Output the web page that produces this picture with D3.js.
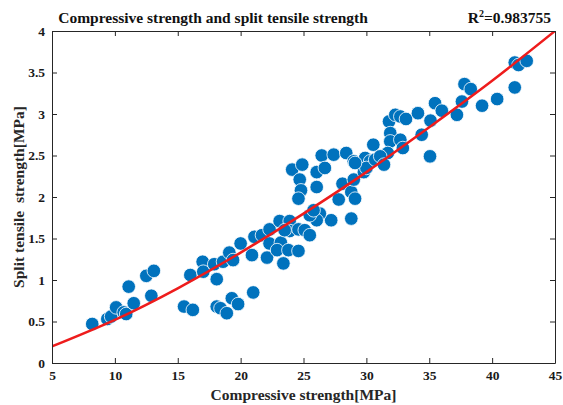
<!DOCTYPE html>
<html>
<head>
<meta charset="utf-8">
<script src="https://cdn.jsdelivr.net/npm/d3@7"></script>
<style>
  body { margin: 0; background: #fff; }
  svg { display: block; }
</style>
</head>
<body>
<div id="chart"></div>
<script>
// data
let compressive = [
  8.2, 9.4, 9.7, 10.1, 10.7, 10.9, 11.1, 11.5, 12.5, 13.1, 12.9, 15.5, 16.2, 16.0,
  16.98, 17.03, 17.9, 18.6, 18.1, 19.1, 19.4, 20.0, 20.9, 21.1, 21.7, 22.1, 22.3, 22.3,
  23.1, 23.2, 22.9, 23.4, 23.8, 23.9, 23.9, 24.6, 24.6, 25.1, 25.5, 23.5,
  18.1, 18.4, 18.9, 19.3, 19.8, 21.0,
  24.1, 24.9, 24.7, 24.8, 24.6, 26.45, 27.4, 28.4, 26.05, 26.7, 26.05, 28.1, 28.8, 29.0,
  27.8, 29.1, 29.0, 29.9, 30.3, 30.55, 28.8, 27.2, 26.3, 26.05, 25.5, 25.8, 29.8, 30.0,
  30.7, 29.1,
  31.8, 32.3, 32.7, 33.15, 34.1, 31.9, 31.9, 32.7, 32.9, 31.7, 31.1, 31.4, 35.06, 34.4,
  35.1, 35.46, 36.0, 37.2, 37.6, 37.8, 38.3, 39.2, 40.4, 41.8, 41.8, 42.1, 42.75
];
let tensile = [
  0.47, 0.53, 0.56, 0.67, 0.61, 0.59, 0.92, 0.72, 1.05, 1.11, 0.81, 0.68, 0.64, 1.06,
  1.22, 1.10, 1.19, 1.22, 1.01, 1.33, 1.24, 1.44, 1.30, 1.52, 1.54, 1.27, 1.61, 1.44,
  1.71, 1.45, 1.36, 1.20, 1.36, 1.71, 1.59, 1.61, 1.35, 1.60, 1.54, 1.60,
  0.68, 0.66, 0.60, 0.78, 0.71, 0.85,
  2.33, 2.39, 2.21, 2.08, 1.98, 2.50, 2.51, 2.53, 2.30, 2.35, 2.12, 2.16, 2.06, 2.21,
  1.97, 1.98, 2.43, 2.47, 2.43, 2.63, 1.74, 1.72, 1.80, 1.72, 1.78, 1.84, 2.30, 2.35,
  2.45, 2.41,
  2.91, 2.99, 2.97, 2.94, 3.01, 2.77, 2.67, 2.69, 2.59, 2.53, 2.49, 2.39, 2.49, 2.75,
  2.92, 3.13, 3.04, 2.99, 3.15, 3.36, 3.30, 3.10, 3.18, 3.32, 3.62, 3.59, 3.64
];

// fitted curve, read at the x ticks
let fitX = [5, 10, 15, 20, 25, 30, 35, 40, 45];
let fitY = [0.2, 0.52, 0.9, 1.33, 1.8, 2.3, 2.84, 3.4, 4.0];

let xTicks = [5, 10, 15, 20, 25, 30, 35, 40, 45];
let yTicks = [0, 0.5, 1, 1.5, 2, 2.5, 3, 3.5, 4];
let yTickLabels = ['0', '0.5', '1', '1.5', '2', '2.5', '3', '3.5', '4'];

let titleText = 'Compressive strength and split tensile strength';
let r2Text = '0.983755';
let xLabel = 'Compressive strength[MPa]';
let yLabel = 'Split tensile  strength[MPa]';

let w = 563;
let h = 405;
let margin = { top: 31, right: 8, bottom: 42, left: 52 };
let iw = w - margin.left - margin.right;
let ih = h - margin.top - margin.bottom;
let axisColor = '#262626';
let serif = '"Liberation Serif", "DejaVu Serif", serif';

let svg = d3.select('#chart').append('svg').attr('width', w).attr('height', h);
let g = svg.append('g').attr('transform', `translate(${margin.left}, ${margin.top})`);

let x = d3.scaleLinear().domain([5, 45]).range([0, iw]);
let y = d3.scaleLinear().domain([0, 4]).range([ih, 0]);

// clip to the axes box
svg.append('defs').append('clipPath')
  .attr('id', 'box')
  .append('rect')
  .attr('width', iw)
  .attr('height', ih);

// points
let pts = d3.range(compressive.length).map(i => [compressive[i], tensile[i]]);
g.append('g')
  .attr('clip-path', 'url(#box)')
  .selectAll('circle')
  .data(pts)
  .enter().append('circle')
  .attr('cx', d => x(d[0]))
  .attr('cy', d => y(d[1]))
  .attr('r', 6.8)
  .attr('fill', '#0072BD')
  .attr('stroke', '#ffffff')
  .attr('stroke-width', 0.8);

// fit line
let line = d3.line()
  .x(d => x(d[0]))
  .y(d => y(d[1]))
  .curve(d3.curveNatural);

g.append('path')
  .datum(fitX.map((v, i) => [v, fitY[i]]))
  .attr('clip-path', 'url(#box)')
  .attr('d', line)
  .attr('fill', 'none')
  .attr('stroke', '#ee1c1c')
  .attr('stroke-width', 2.5);

// axes, ticks inside on all four sides
let styleAxis = (sel) => {
  sel.attr('font-family', null).attr('font-size', null);
  sel.select('.domain').attr('stroke', axisColor).attr('stroke-width', 1);
  sel.selectAll('.tick line').attr('stroke', axisColor).attr('stroke-width', 1);
  sel.selectAll('.tick text')
    .attr('fill', '#1a1a1a')
    .style('font-size', '13.5px')
    .style('font-family', serif)
    .style('font-weight', 'bold');
};

g.append('g')
  .attr('transform', `translate(0, ${ih})`)
  .call(d3.axisBottom(x).tickValues(xTicks).tickSizeInner(-5).tickSizeOuter(0).tickPadding(7).tickFormat(d3.format('d')))
  .call(styleAxis);

g.append('g')
  .call(d3.axisTop(x).tickValues(xTicks).tickSizeInner(-5).tickSizeOuter(0).tickFormat(''))
  .call(styleAxis);

g.append('g')
  .call(d3.axisLeft(y).tickValues(yTicks).tickSizeInner(-5).tickSizeOuter(0).tickPadding(7)
    .tickFormat((d, i) => yTickLabels[i]))
  .call(styleAxis);

g.append('g')
  .attr('transform', `translate(${iw}, 0)`)
  .call(d3.axisRight(y).tickValues(yTicks).tickSizeInner(-5).tickSizeOuter(0).tickFormat(''))
  .call(styleAxis);

// title
svg.append('text')
  .attr('x', 213)
  .attr('y', 23)
  .attr('text-anchor', 'middle')
  .style('font-family', serif)
  .style('font-weight', 'bold')
  .style('font-size', '15.5px')
  .attr('fill', '#111')
  .text(titleText);

let r2 = svg.append('text')
  .attr('x', 551)
  .attr('y', 23)
  .attr('text-anchor', 'end')
  .style('font-family', serif)
  .style('font-weight', 'bold')
  .style('font-size', '15.5px')
  .attr('fill', '#111');
r2.append('tspan').text('R');
r2.append('tspan').style('font-size', '10px').attr('dy', -6).text('2');
r2.append('tspan').attr('dy', 6).text('=' + r2Text);

// axis labels
svg.append('text')
  .attr('x', margin.left + iw / 2)
  .attr('y', 400)
  .attr('text-anchor', 'middle')
  .style('font-family', serif)
  .style('font-weight', 'bold')
  .style('font-size', '15.5px')
  .attr('fill', axisColor)
  .text(xLabel);

svg.append('text')
  .attr('transform', `translate(24, ${margin.top + ih / 2}) rotate(-90)`)
  .attr('text-anchor', 'middle')
  .style('font-family', serif)
  .style('font-weight', 'bold')
  .style('font-size', '15.5px')
  .style('white-space', 'pre')
  .attr('fill', axisColor)
  .text(yLabel);
</script>
</body>
</html>
